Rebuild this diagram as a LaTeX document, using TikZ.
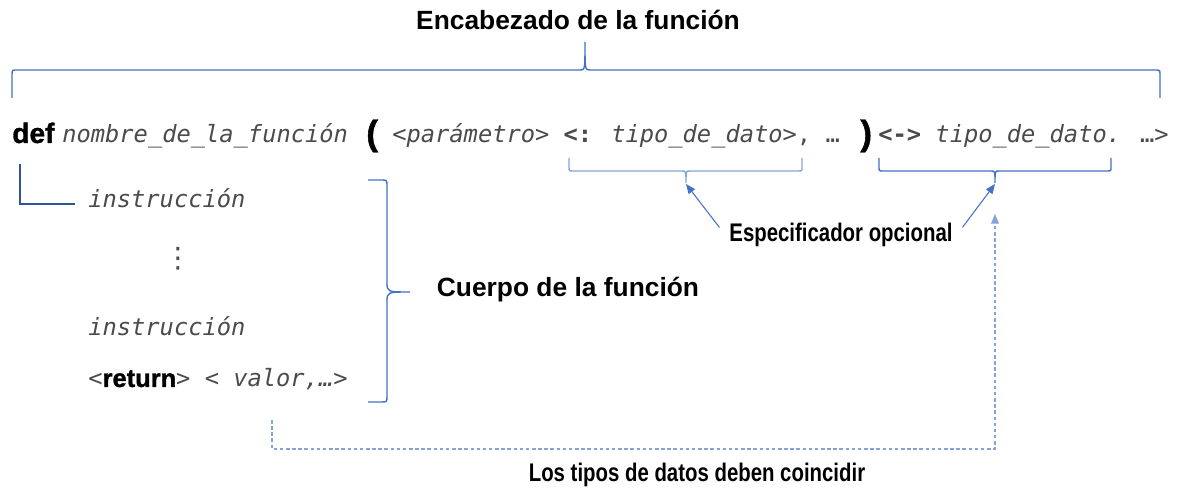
\documentclass[tikz,border=0pt]{standalone}
\usepackage{fontspec}
\usepackage{tikz}
\usetikzlibrary{arrows.meta, positioning}
\setmainfont{Liberation Sans}
\newfontfamily\codefont{DejaVu Sans Mono}
\newfontfamily\dotsfont{DejaVu Sans}
\newfontfamily\narrowfont{Liberation Sans}[FakeStretch=0.8]
\newfontfamily\heavyfont{Liberation Sans}[FakeBold=1.2]
\definecolor{officeblue}{RGB}{68, 114, 196}
\definecolor{paleblue}{RGB}{134, 163, 216}
\definecolor{darkblue}{RGB}{47, 85, 151}
\definecolor{codegray}{RGB}{75, 75, 75}

\begin{document}
\begin{tikzpicture}[x=0.02cm, y=-0.02cm, >={Triangle[length=5.5pt, width=4.5pt]},
    code/.style={font=\codefont\fontsize{13.5}{16}\selectfont, text=codegray, anchor=base west, inner sep=0pt},
    keyword/.style={font=\heavyfont\bfseries\fontsize{16}{18}\selectfont, anchor=base west, inner sep=0pt},
    paren/.style={font=\heavyfont\bfseries\fontsize{20}{22}\selectfont, anchor=base west, inner sep=0pt},
    title/.style={font=\bfseries\fontsize{15}{18}\selectfont, anchor=base, inner sep=0pt},
    note/.style={font=\narrowfont\bfseries\fontsize{14.5}{17}\selectfont, anchor=base, inner sep=2pt},
    bracket/.style={officeblue, line width=0.8pt},
    arr/.style={->, officeblue, line width=0.6pt}]
  \useasboundingbox (0,0) rectangle (1177,502);

  % Header line
  \node (head) [title] at (578,30) {Encabezado de la función};
  \draw[bracket] (12,98) -- (12,75) .. controls (12,70) .. (17,70) -- (580,70)
    .. controls (585,70) .. (585,42) .. controls (585,70) .. (590,70) -- (1155,70)
    .. controls (1160,70) .. (1160,75) -- (1160,98);

  \node (def) [keyword] at (12,143) {def};
  \node (name) [code] at (62,143) {\itshape nombre\_de\_la\_función};
  \node (lpar) [paren] at (366,145) {(};
  \node (params) [code] at (392,143) {<\textit{parámetro}> \textbf{<:} \textit{tipo\_de\_dato}>, …};
  \node (rpar) [paren] at (860,145) {)};
  \node (rtype) [code] at (878,143) {\textbf{<->} \textit{tipo\_de\_dato.} …>};

  % Optional specifiers
  \draw[bracket, paleblue] (569,158) -- (569,167) .. controls (569,171) .. (573,171) -- (682,171)
    .. controls (686,171) .. (686,183) .. controls (686,171) .. (690,171) -- (798,171)
    .. controls (802,171) .. (802,167) -- (802,158);
  \draw[bracket] (879,158) -- (879,167) .. controls (879,171) .. (883,171) -- (991,171)
    .. controls (995,171) .. (995,183) .. controls (995,171) .. (999,171) -- (1107,171)
    .. controls (1111,171) .. (1111,167) -- (1111,158);
  \coordinate (tipA) at (686,184);
  \coordinate (tipB) at (995,184);
  \node (spec) [note] at (841,242) {Especificador opcional};
  \draw[arr, shorten <=0.2cm] (spec.west) -- (tipA);
  \draw[arr, shorten <=0.2cm] (spec.east) -- (tipB);

  % Body
  \node (instr1) [code] at (88,208) {\itshape instrucción};
  \node (dots) [text=codegray, font=\dotsfont\fontsize{16}{18}\selectfont] at (178,259) {⋮};
  \node (instr2) [code] at (88,336) {\itshape instrucción};
  \node (retline) [code] at (88,387)
    {<{\heavyfont\bfseries\fontsize{14.5}{16}\selectfont\color{black}return}> <~\textit{valor,…}>};
  \draw[darkblue, line width=1.2pt] (def.south west) ++(8,20) |- ([xshift=-7.5pt, yshift=2.5pt]instr1.base west);

  \draw[bracket] (368,180) -- (381,180) .. controls (387,180) .. (387,186) -- (387,282)
    .. controls (387,292) .. (410,292) .. controls (387,292) .. (387,302) -- (387,396)
    .. controls (387,402) .. (381,402) -- (368,402);
  \node (body) [title] at (568,297) {Cuerpo de la función};

  % Matching types
  \coordinate (valor) at (272,420);
  \coordinate (chk) at (995,214);
  \draw[arr, paleblue, dash pattern=on 2pt off 1.5pt] (valor) -- ++(0,29) -| (chk);
  \node (match) [note] at (697,482) {Los tipos de datos deben coincidir};

\end{tikzpicture}
\end{document}
